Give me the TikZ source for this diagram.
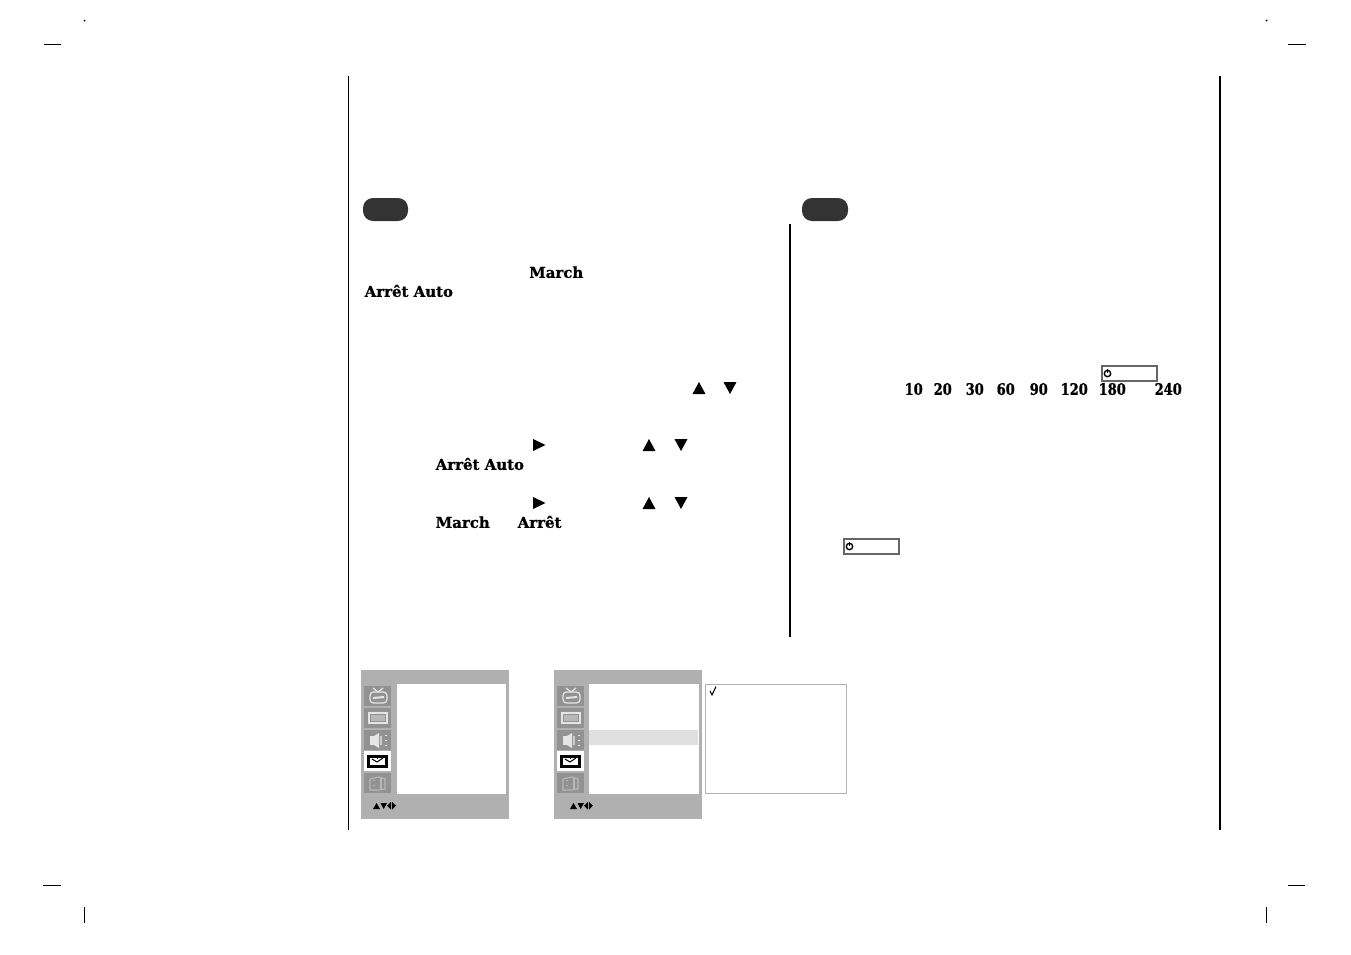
\documentclass[tikz,border=0pt]{standalone}
\usepackage{fontspec}
\setmainfont{DejaVu Serif}
\newfontfamily\slabfont[BoldFeatures={FakeBold=0.9}]{DejaVu Serif}
\newfontfamily\minutefont[BoldFeatures={FakeBold=1.1,FakeStretch=0.82}]{DejaVu Serif}
\definecolor{menugray}{HTML}{B0B0B0}
\definecolor{icongray}{HTML}{929292}
\definecolor{pilldark}{HTML}{333333}
\tikzset{
	boldlabel/.style={font=\fontsize{4.25}{5}\slabfont\bfseries,inner sep=0pt,anchor=base west},
	minutelabel/.style={font=\fontsize{4.5}{5}\minutefont\bfseries,inner sep=0pt,anchor=base west},
	iconline/.style={draw=white!90!black,line width=0.35pt},
}
\begin{document}
\begin{tikzpicture}[x=0.01cm,y=-0.01cm]
	\useasboundingbox (0,0) rectangle (1351,954);
	% page rules
	\draw [line width=0.3pt](348.5,76) -- (348.5,830);
	\draw [line width=0.6pt](1220,76) -- (1220,830);
	\draw [line width=0.6pt](790,224) -- (790,637);
	% crop marks
	\foreach \xa/\xb/\ya in {44/61/44.5,1288/1306/44.5,43/61/885.5,1288/1305/885.5}
		\draw [line width=0.3pt](\xa,\ya) -- (\xb,\ya);
	\foreach \xa in {84.5,1266.5}{
		\fill (\xa,20.5) circle (1);
		\draw [line width=0.25pt](\xa,907) -- (\xa,923);
	}
	% heading pills
	\fill [pilldark,rounded corners=0.1cm](363,198) rectangle (408,221);
	\fill [pilldark,rounded corners=0.1cm](802,198) rectangle (848,221);
	% bold words, left column
	\node [boldlabel] (march1) at (528.5,277.8) {March};
	\node [boldlabel] (arretauto1) at (364,296.8) {Arrêt Auto};
	\node [boldlabel] (arretauto2) at (435,469.8) {Arrêt Auto};
	\node [boldlabel] (march2) at (435,527.8) {March};
	\node [boldlabel] (arret) at (517,527.8) {Arrêt};
	% minutes, right column
	\foreach \xa/\val in {904/10,933/20,965/30,996/60,1029/90,1060/120,1098/180,1154/240}
		\node [minutelabel] (min\val) at (\xa,394.8) {\val};
	% key triangles
	\foreach \xa/\ya in {699/388,649/445,649/503}
		\fill (\xa-6.5,\ya+6) -- (\xa+6.5,\ya+6) -- (\xa,\ya-6) -- cycle;
	\foreach \xa/\ya in {730/388,681/445,681/503}
		\fill (\xa-6.5,\ya-6) -- (\xa+6.5,\ya-6) -- (\xa,\ya+6) -- cycle;
	\foreach \ya in {445,503}
		\fill (533,\ya-6) -- (545.5,\ya) -- (533,\ya+6) -- cycle;
	% timer boxes
	\foreach \xa/\ya in {1102/366,844/539}{
		\draw [black!60,line width=0.3pt](\xa,\ya) rectangle ++(55,15);
		\draw [black,line width=0.4pt](\xa+5.5,\ya+7.5) circle (3.2);
		\draw [black,line width=0.4pt](\xa+5.5,\ya+2.5) -- ++(0,4.5);
	}
	% menu screens
	\foreach \dx/\panelstart/\panelend/\navx in {0/397/506/0,193/589/699/197}{
	\begin{scope}[shift={(\dx,0)}]
		\fill [menugray](361,670) rectangle (509,819);
		\fill [icongray](364,686) rectangle (391,706);
		\fill [icongray](364,708) rectangle (391,728);
		\fill [icongray](364,730) rectangle (391,750);
		\fill [white](364,751) rectangle (391,771);
		\fill [icongray](364,773) rectangle (391,793);
		% tv
		\draw [iconline,rounded corners=1pt](370,692) rectangle (387,703);
		\draw [iconline](373,688) -- (378,692) -- (383,688);
		\fill [white!90!black](373,697) -- (384,696) -- (384,698) -- (373,699) -- cycle;
		% picture
		\draw [iconline](369,713) rectangle (387,723);
		\fill [white!72!black](371,715) rectangle (385,721);
		% speaker
		\fill [white!90!black](370,736) rectangle (374,745);
		\fill [white!90!black](374,736) -- (379,733) -- (379,748) -- (374,745) -- cycle;
		\draw [white!80!black,line width=0.3pt](381,736) -- (381,745);
		\draw [iconline,densely dotted](386,735) -- (386,746);
		% clock
		\draw [black,line width=0.6pt](368.5,756.5) rectangle (386.5,766.5);
		\draw [black,line width=0.3pt](372,759) -- (377,762) -- (383,758);
		\fill (377,757) rectangle (378,758.5);
		\fill (377,764.5) rectangle (378,766);
		% book
		\draw [white!72!black,line width=0.3pt](370,779) -- (379,777) -- (385,779) -- (385,789) -- (379,790) -- (370,790) -- cycle;
		\draw [white!72!black,line width=0.3pt,densely dotted](374,780) -- (374,789);
		\draw [white!72!black,line width=0.3pt](381,778) -- (381,790);
	\end{scope}
		% nav arrows
		\begin{scope}[shift={(\navx,0)}]
			\fill (373,809) -- (380,809) -- (376.5,803) -- cycle;
			\fill (380.5,803) -- (387,803) -- (383.7,809) -- cycle;
			\fill (391,802) -- (391,809.5) -- (387,805.7) -- cycle;
			\fill (392,802) -- (392,809.5) -- (396,805.7) -- cycle;
		\end{scope}
		\fill [white](\panelstart,684) rectangle (\panelend,794);
	}
	\fill [white!88!black](589,730) rectangle (698,745);
	% option list
	\draw [menugray,line width=0.3pt](705.5,684.5) rectangle (846.5,793.5);
	\draw [black,line width=0.3pt](710,691) -- (712,695) -- (716,686.5);
\end{tikzpicture}
\end{document}
